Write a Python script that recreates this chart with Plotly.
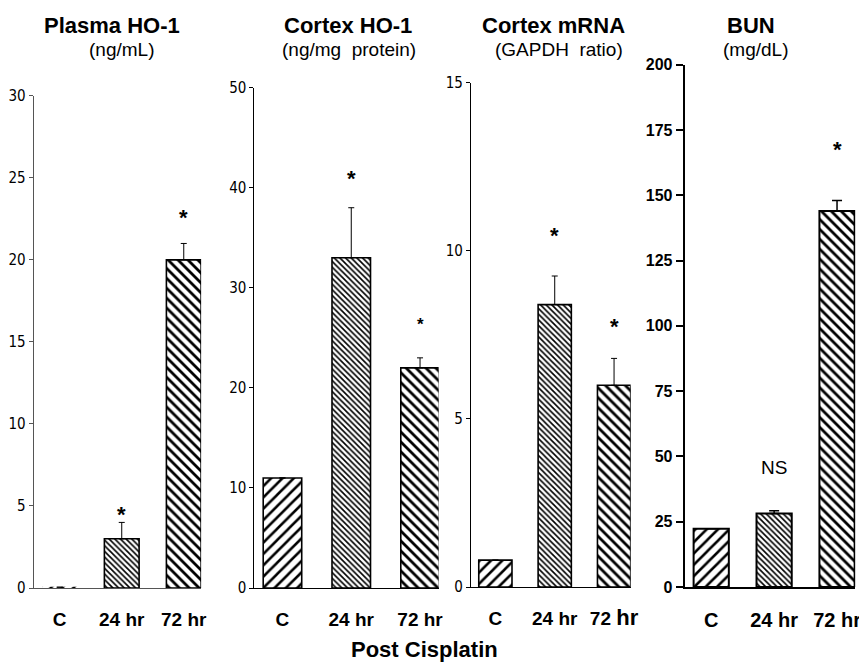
import plotly.graph_objects as go

W, H = 867, 662

categories = ["C", "24 hr", "72 hr"]

plasma_values = [0.05, 3.0, 20.0]
plasma_errors = [0.0, 1.0, 1.0]
plasma_marks = ["", "*", "*"]
plasma_mark_y = [None, 4.8, 22.9]
plasma_ticks = [0, 5, 10, 15, 20, 25, 30]

cortex_values = [11.0, 33.0, 22.0]
cortex_errors = [0.0, 5.0, 1.0]
cortex_marks = ["", "*", "*"]
cortex_mark_y = [None, 41.4, 26.8]
cortex_ticks = [0, 10, 20, 30, 40, 50]

mrna_values = [0.8, 8.4, 6.0]
mrna_errors = [0.0, 0.85, 0.8]
mrna_marks = ["", "*", "*"]
mrna_mark_y = [None, 10.6, 7.9]
mrna_ticks = [0, 5, 10, 15]

bun_values = [22.3, 28.2, 144.0]
bun_errors = [0.0, 1.0, 4.0]
bun_marks = ["", "NS", "*"]
bun_mark_y = [None, 45.8, 169.6]
bun_ticks = [0, 25, 50, 75, 100, 125, 150, 175, 200]

titles = ["Plasma HO-1", "Cortex HO-1", "Cortex mRNA", "BUN"]
subtitles = ["(ng/mL)", "(ng/mg&nbsp; protein)", "(GAPDH&nbsp; ratio)", "(mg/dL)"]

NARROW = "Liberation Sans Narrow, DejaVu Sans Condensed, Arial Narrow, sans-serif"
ARIAL = "Liberation Sans, Arial, Helvetica, sans-serif"

panels = [
    dict(vals=plasma_values, errs=plasma_errors, marks=plasma_marks, mark_y=plasma_mark_y,
         ticks=plasma_ticks, ymax=30, px=(14, 185.4), py=(587, 81), xr=(-0.42, 2.28),
         axcolor="#555555", axw=1.2, tickfont=dict(family=NARROW, size=15, color="black"),
         catsize=19, markfs=[22, 22, 22], title_x=94, sub_x=104, ticklen=4,
         barline=[0, 1.6, 1.6],
         cattext=["C", "24 hr", "72 hr"]),
    dict(vals=cortex_values, errs=cortex_errors, marks=cortex_marks, mark_y=cortex_mark_y,
         ticks=cortex_ticks, ymax=50, px=(240, 428.5), py=(587, 72.6), xr=(-0.407, 2.27),
         axcolor="black", axw=1.2, tickfont=dict(family=NARROW, size=15, color="black"),
         catsize=19, markfs=[22, 22, 17], title_x=335.6, sub_x=336.6, ticklen=4,
         barline=[1.6, 1.6, 1.6],
         cattext=["C", "24 hr", "72 hr"]),
    dict(vals=mrna_values, errs=mrna_errors, marks=mrna_marks, mark_y=mrna_mark_y,
         ticks=mrna_ticks, ymax=15, px=(461.7, 625.1), py=(586, 67.5), xr=(-0.41, 2.28),
         axcolor="black", axw=1.2, tickfont=dict(family=NARROW, size=15, color="black"),
         catsize=19, markfs=[22, 22, 22], title_x=546.4, sub_x=551.4, ticklen=4,
         barline=[1.6, 1.6, 1.6],
         cattext=["C", "24 hr", "72 <span style='font-size:22px'>hr</span>"]),
    dict(vals=bun_values, errs=bun_errors, marks=bun_marks, mark_y=bun_mark_y,
         ticks=bun_ticks, ymax=200, px=(680.5, 855), py=(586, 49), xr=(-0.42, 2.29),
         axcolor="black", axw=2.2, tickfont=dict(family=ARIAL, size=16, color="black", weight="bold"),
         catsize=20, markfs=[22, 19, 22], title_x=748.1, sub_x=753.1, ticklen=7,
         barline=[2, 2, 2],
         cattext=["C", "24 hr", "72 hr"]),
]

fig = go.Figure()
layout = dict(width=W, height=H, margin=dict(l=0, r=0, t=0, b=0),
              plot_bgcolor="white", paper_bgcolor="white", showlegend=False,
              annotations=[])

for i, p in enumerate(panels):
    n = "" if i == 0 else str(i + 1)
    xa, ya = "x" + n, "y" + n
    fig.add_trace(go.Bar(
        x=[0, 1, 2], y=p["vals"], width=0.56, xaxis=xa, yaxis=ya,
        hoverinfo="skip",
        marker=dict(color="white",
                    line=dict(color="black", width=p["barline"]),
                    pattern=dict(shape=["/", "\\", "\\"], size=[8, 4, 7],
                                 solidity=[0.32, 0.4, 0.4], fgcolor="black",
                                 bgcolor="white", fillmode="replace")),
        error_y=dict(type="data", symmetric=False, array=p["errs"],
                     arrayminus=[0, 0, 0], color="black",
                     thickness=1 if i < 3 else 1.5, width=3 if i < 3 else 5),
    ))
    x0, x1 = p["px"]
    yb, yt = p["py"]
    layout["xaxis" + n] = dict(
        domain=[x0 / W, x1 / W], range=list(p["xr"]), anchor=ya,
        showline=True, linecolor=p["axcolor"], linewidth=p["axw"],
        showgrid=False, zeroline=False, tickmode="array", tickvals=[0, 1, 2],
        ticktext=p["cattext"], ticks="outside", ticklen=14,
        tickcolor="rgba(0,0,0,0)",
        tickfont=dict(family=ARIAL, size=p["catsize"], color="black", weight="bold"),
        fixedrange=True)
    layout["yaxis" + n] = dict(
        domain=[1 - yb / H, 1 - yt / H], range=[0, p["ymax"]], anchor=xa,
        showline=True, linecolor=p["axcolor"], linewidth=p["axw"],
        showgrid=False, zeroline=False, tickmode="array", tickvals=p["ticks"],
        ticks="outside", ticklen=p["ticklen"], tickcolor=p["axcolor"],
        tickwidth=1 if i < 3 else 2, tickfont=p["tickfont"], fixedrange=True)
    for k in range(3):
        if p["marks"][k]:
            is_star = p["marks"][k] == "*"
            layout["annotations"].append(dict(
                x=k, y=p["mark_y"][k], xref=xa, yref=ya, text=p["marks"][k],
                showarrow=False, yanchor="middle", yshift=-5 if is_star else 0,
                font=dict(family=ARIAL, size=p["markfs"][k], color="black",
                          weight="bold" if is_star else "normal")))
    layout["annotations"].append(dict(
        x=p["title_x"] / W, y=1 - 9 / H, xref="paper", yref="paper",
        text="<b>%s</b>" % titles[i], showarrow=False, xanchor="center", yanchor="middle",
        font=dict(family=ARIAL, size=22, color="black")))
    layout["annotations"].append(dict(
        x=p["sub_x"] / W, y=1 - 33 / H, xref="paper", yref="paper",
        text=subtitles[i], showarrow=False, xanchor="center", yanchor="middle",
        font=dict(family=ARIAL, size=19, color="black")))

layout["annotations"].append(dict(
    x=414 / W, y=1 - 650 / H, xref="paper", yref="paper",
    text="<b>Post Cisplatin</b>", showarrow=False, xanchor="center", yanchor="middle",
    font=dict(family=ARIAL, size=22, color="black")))

fig.update_layout(**layout)
fig.write_html("out.html")
